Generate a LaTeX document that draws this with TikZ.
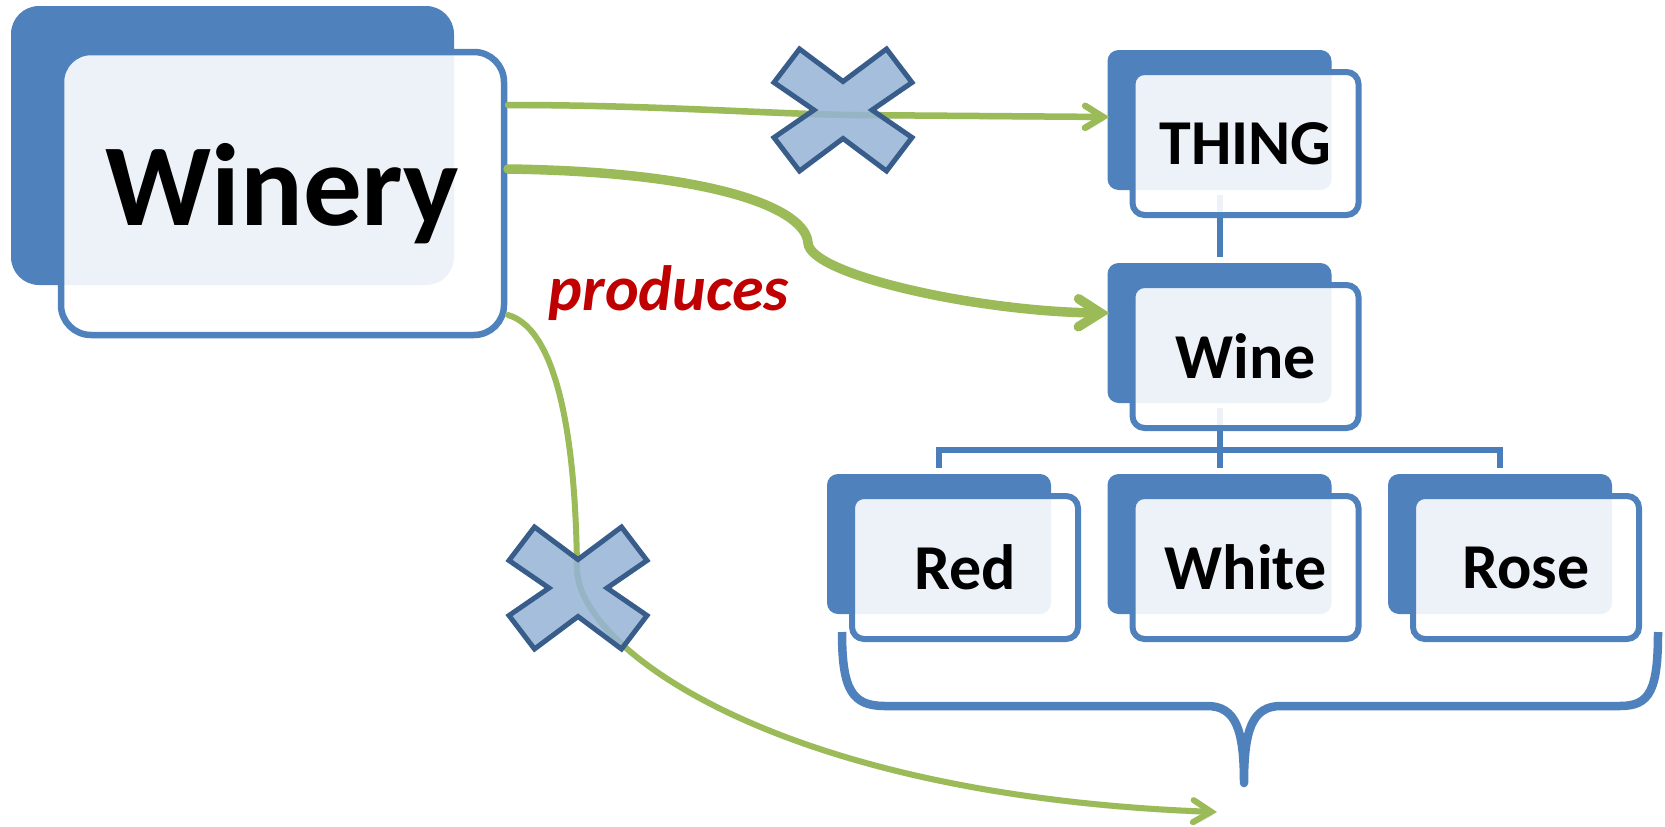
\documentclass[tikz,border=0pt]{standalone}
\usepackage{fontspec}
\setmainfont{Carlito}
\usetikzlibrary{arrows.meta,calc}
\definecolor{accent}{HTML}{4F81BD}
\definecolor{linkblue}{HTML}{4A7EBB}
\definecolor{leaf}{HTML}{9BBB59}
\definecolor{crossfill}{HTML}{95B3D7}
\definecolor{crossedge}{HTML}{385D8A}
\definecolor{relred}{HTML}{C00000}

\tikzset{
  backbox/.style={rectangle, rounded corners=11pt, fill=accent, inner sep=0pt,
    minimum width=224pt, minimum height=140pt},
  frontbox/.style={rectangle, rounded corners=12pt, draw=accent, line width=6pt,
    fill=white, fill opacity=0.9, text opacity=1, inner sep=0pt,
    minimum width=226pt, minimum height=143pt,
    font=\fontsize{64}{72}\selectfont\bfseries},
  bigback/.style={backbox, rounded corners=28pt, minimum width=443pt, minimum height=279pt},
  bigfront/.style={frontbox, rounded corners=30pt, line width=6.5pt,
    minimum width=443pt, minimum height=283pt,
    font=\fontsize{117}{130}\selectfont\bfseries},
  link/.style={draw=linkblue, line width=6pt},
  softshadow/.style={preaction={draw=black, draw opacity=0.13,
    transform canvas={shift={(1.5,3)}}}},
  rel/.style={draw=leaf, line cap=round, softshadow},
  crossstyle/.style={fill=crossfill, fill opacity=0.85, draw=crossedge, line width=5pt, line join=miter},
  bracestyle/.style={draw=accent, line width=8.5pt, line join=round, softshadow},
  pics/crossmark/.style={code={
    \path[crossstyle] (-43.5,-61) -- (0,-28.5) -- (43.5,-61) -- (69,-27.5) -- (29,0)
      -- (69,27.5) -- (43.5,61) -- (0,28.5) -- (-43.5,61) -- (-69,27.5) -- (-29,0)
      -- (-69,-27.5) -- cycle;
  }}
}

\begin{document}
\begin{tikzpicture}[x=1pt,y=-1pt]
\useasboundingbox[fill=white] (0,0) rectangle (1665,827);

% anchors of the class boxes (drawn later), so the links can sit beneath them
\coordinate (bus) at (0,450);
\node[backbox, fill=none] (thingB) at (1219.5,120) {};
\node[backbox, fill=none] (wineB) at (1219.5,333) {};
\node[backbox, fill=none] (redB) at (939,544) {};
\node[backbox, fill=none] (whiteB) at (1219.5,544) {};
\node[backbox, fill=none] (roseB) at (1500,544) {};

% hierarchy links
\draw[link] ($(thingB.south)+(0,5)$) -- ($(wineB.north)+(0,-6)$);
\draw[link] ($(wineB.south)+(0,5)$) -- ($(whiteB.north)+(0,-6)$);
\draw[link] ($(redB.north)+(0,-6)$) -- (redB.north |- bus) -- (roseB.north |- bus)
  -- ($(roseB.north)+(0,-6)$);

% Winery
\node[bigback] (wineryB) at (232.5,145.5) {};
\node[bigfront] (winery) at (282.5,193.5) {Winery};

% class boxes
\node[backbox] at (thingB) {};
\node[frontbox] (thing) at ($(thingB)+(26,23.5)$) {THING};
\node[backbox] at (wineB) {};
\node[frontbox] (wine) at ($(wineB)+(26,23.5)$) {Wine};
\node[backbox] at (redB) {};
\node[frontbox] (red) at ($(redB)+(26,23.5)$) {Red};
\node[backbox] at (whiteB) {};
\node[frontbox] (white) at ($(whiteB)+(26,23.5)$) {White};
\node[backbox] at (roseB) {};
\node[frontbox] (rose) at ($(roseB)+(26,23.5)$) {Rose};

% brace under the subclasses
\coordinate (braceL) at (842,632);
\coordinate (braceR) at (1658,632);
\coordinate (braceTip) at (1244,783);
\draw[bracestyle] (braceL) .. controls (842,690) and (852,706) .. (885,706)
  -- (1207,706) .. controls (1236,706) and (1244,730) .. (braceTip)
  .. controls (1244,730) and (1252,706) .. (1281,706)
  -- (1620,706) .. controls (1650,706) and (1658,690) .. (braceR);

% relations leaving Winery
\coordinate (s1) at (508,105);
\coordinate (s2) at (508,169);
\coordinate (s3) at (508,315);
\coordinate (e3) at (1217,812);
\draw[rel, line width=6.5pt, -{Straight Barb[length=18pt,width=22pt,line cap=round]}]
  (s1) .. controls (650,105) and (750,113) .. (850,115) -- ($(thingB.west)+(2,-3)$);
\draw[rel, line width=9.5pt, -{Straight Barb[length=22pt,width=28pt,line cap=round]}]
  (s2) .. controls (720,172) and (806,210) .. (808,243)
  .. controls (810,275) and (980,312) .. ($(wineB.west)+(2,-20)$);
\draw[rel, line width=6pt, -{Straight Barb[length=18pt,width=22pt,line cap=round]}]
  (s3) .. controls (560,330) and (576,450) .. (577,570)
  .. controls (580,650) and (780,796) .. (e3);

\node[text=relred, font=\fontsize{64}{72}\selectfont\bfseries\itshape, anchor=base]
  (produces) at (669,310) {produces};

% rejected relations
\pic at (843,110) {crossmark};
\pic at (578,588) {crossmark};
\end{tikzpicture}
\end{document}
